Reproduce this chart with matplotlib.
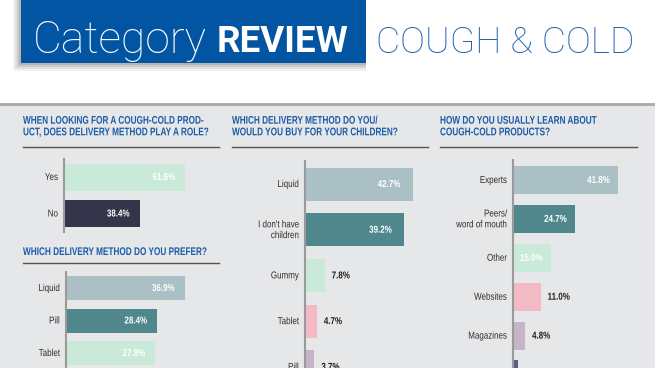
import matplotlib
matplotlib.use("Agg")
import matplotlib.pyplot as plt
from matplotlib.patches import Rectangle
from matplotlib.transforms import Affine2D
from matplotlib.lines import Line2D
from matplotlib.patheffects import AbstractPathEffect

# ===== data =====
role_cats = ["Yes", "No"]
role_vals = [61.6, 38.4]

prefer_cats = ["Liquid", "Pill", "Tablet"]
prefer_vals = [36.9, 28.4, 27.8]

kids_cats = ["Liquid", "I don't have\nchildren", "Gummy", "Tablet", "Pill"]
kids_vals = [42.7, 39.2, 7.8, 4.7, 3.7]

learn_cats = ["Experts", "Peers/\nword of mouth", "Other", "Websites", "Magazines", ""]
learn_vals = [41.8, 24.7, 15.0, 11.0, 4.8, 1.8]

MINT = "#c9e9d9"
NAVY = "#34354b"
GREYBLUE = "#aac0c5"
TEAL = "#4f878d"
PINK = "#f3b9c5"
MAUVE = "#c8b4c9"
PURPLE = "#5d5e84"
BLUE = "#1b5ca8"

FONT = ["Liberation Sans", "DejaVu Sans"]


class Squeeze(AbstractPathEffect):
    """draw text narrower (condensed look), anchored left or right"""
    def __init__(self, sx=0.8, anchor="left"):
        super().__init__()
        self.sx = sx
        self.anchor = anchor

    def draw_path(self, renderer, gc, tpath, affine, rgbFace=None):
        x0 = tpath.get_extents().x1 if self.anchor == "right" else 0
        t = Affine2D().translate(-x0, 0).scale(self.sx, 1).translate(x0, 0)
        renderer.draw_path(gc, tpath, t + affine, rgbFace)


W, H = 655, 368
fig = plt.figure(figsize=(W / 100, H / 100), dpi=100)
fig.patch.set_facecolor("white")
# pixel coords, y going down
px = Affine2D().scale(1 / W, -1 / H).translate(0, 1) + fig.transFigure

# gray panel + top line
fig.patches.append(Rectangle((0, 104), W, H, transform=px, color="#e6e7e9", zorder=0))
fig.lines.append(Line2D([0, W], [104, 104], transform=px, color="#a9a9a9", lw=2))

# banner with a soft shadow
for i, a in enumerate([0.05, 0.07, 0.09, 0.11]):
    d = 8 - 2 * i
    fig.patches.append(Rectangle((21 - d, 0), 345 + d, 63 + d, transform=px,
                                 color="black", alpha=a, lw=0))
fig.patches.append(Rectangle((21, 0), 345, 63, transform=px, color="#0255a2", lw=0))
fig.text(33, 53, "Category", transform=px, color="white", fontsize=32,
         family="Roboto", weight="light", va="baseline")
fig.text(217, 52, "REVIEW", transform=px, color="white", fontsize=26.5,
         family="Roboto", weight="bold", va="baseline")
fig.text(376, 53, "COUGH & COLD", transform=px, color="#1f62b0", fontsize=26.8,
         family="Roboto", weight="light", va="baseline")


def title(x, y, x1, y_rule, s):
    fig.text(x, y, s, transform=px, color=BLUE, fontsize=8, weight="bold",
             family=FONT, va="center", ha="left", linespacing=1.2,
             path_effects=[Squeeze(0.74, "left")])
    fig.lines.append(Line2D([x, x1], [y_rule, y_rule], transform=px,
                            color="#555555", lw=1))


def panel(ax_x, top, bottom, first_c, step, bar_h, scale, cats, vals, colors,
          inside_min, inset=10):
    width_px = 130
    ax = fig.add_axes([ax_x / W, 1 - bottom / H, width_px / W, (bottom - top) / H])
    ax.set_zorder(3)
    ax.set_facecolor("none")
    y = list(range(len(vals)))
    ax.barh(y, vals, height=bar_h / step, color=colors, zorder=2)
    ax.set_xlim(0, width_px / scale)
    ax.set_ylim((bottom - first_c) / step, (top - first_c) / step)
    for s in ["top", "right", "bottom"]:
        ax.spines[s].set_visible(False)
    ax.spines["left"].set_color("#9a9a9a")
    ax.spines["left"].set_linewidth(1.5)
    ax.set_xticks([])
    ax.set_yticks([])
    for i, (c, v) in enumerate(zip(cats, vals)):
        ax.annotate(c, (0, i), xytext=(-6, 0), textcoords="offset pixels",
                    ha="right", va="center", fontsize=7.2, color="#2e2e2e",
                    family=FONT, linespacing=1.1, annotation_clip=False,
                    path_effects=[Squeeze(0.8, "right")])
        if v >= inside_min:
            ax.annotate(f"{v:.1f}%", (v, i), xytext=(-inset, 0),
                        textcoords="offset pixels", ha="right", va="center",
                        fontsize=7.2, color="white", weight="bold", family=FONT,
                        path_effects=[Squeeze(0.8, "right")])
        else:
            ax.annotate(f"{v:.1f}%", (v, i), xytext=(7, 0),
                        textcoords="offset pixels", ha="left", va="center",
                        fontsize=7.2, color="#1e1e1e", weight="bold", family=FONT,
                        annotation_clip=False,
                        path_effects=[Squeeze(0.8, "left")])
    return ax


# left column
title(23, 126.5, 219, 147, "WHEN LOOKING FOR A COUGH-COLD PROD-\nUCT, DOES DELIVERY METHOD PLAY A ROLE?")
panel(64, 159, 232, 177, 36.5, 27, 1.97, role_cats, role_vals, [MINT, NAVY], 0)

title(23, 252, 219, 263, "WHICH DELIVERY METHOD DO YOU PREFER?")
panel(66, 272, 400, 288, 32.5, 24, 3.215, prefer_cats, prefer_vals,
      [GREYBLUE, TEAL, MINT], 0)

# middle column
title(232, 126.5, 428, 147, "WHICH DELIVERY METHOD DO YOU/\nWOULD YOU BUY FOR YOUR CHILDREN?")
panel(305, 161, 420, 184, 45.7, 33, 2.52, kids_cats, kids_vals,
      [GREYBLUE, TEAL, MINT, PINK, MAUVE], 12, inset=12)

# right column
title(440, 126.5, 637, 147, "HOW DO YOU USUALLY LEARN ABOUT\nCOUGH-COLD PRODUCTS?")
panel(513, 160, 420, 180, 38.9, 28, 2.51, learn_cats, learn_vals,
      [GREYBLUE, TEAL, MINT, PINK, MAUVE, PURPLE], 12, inset=8)

fig.savefig("out.png", dpi=100)
